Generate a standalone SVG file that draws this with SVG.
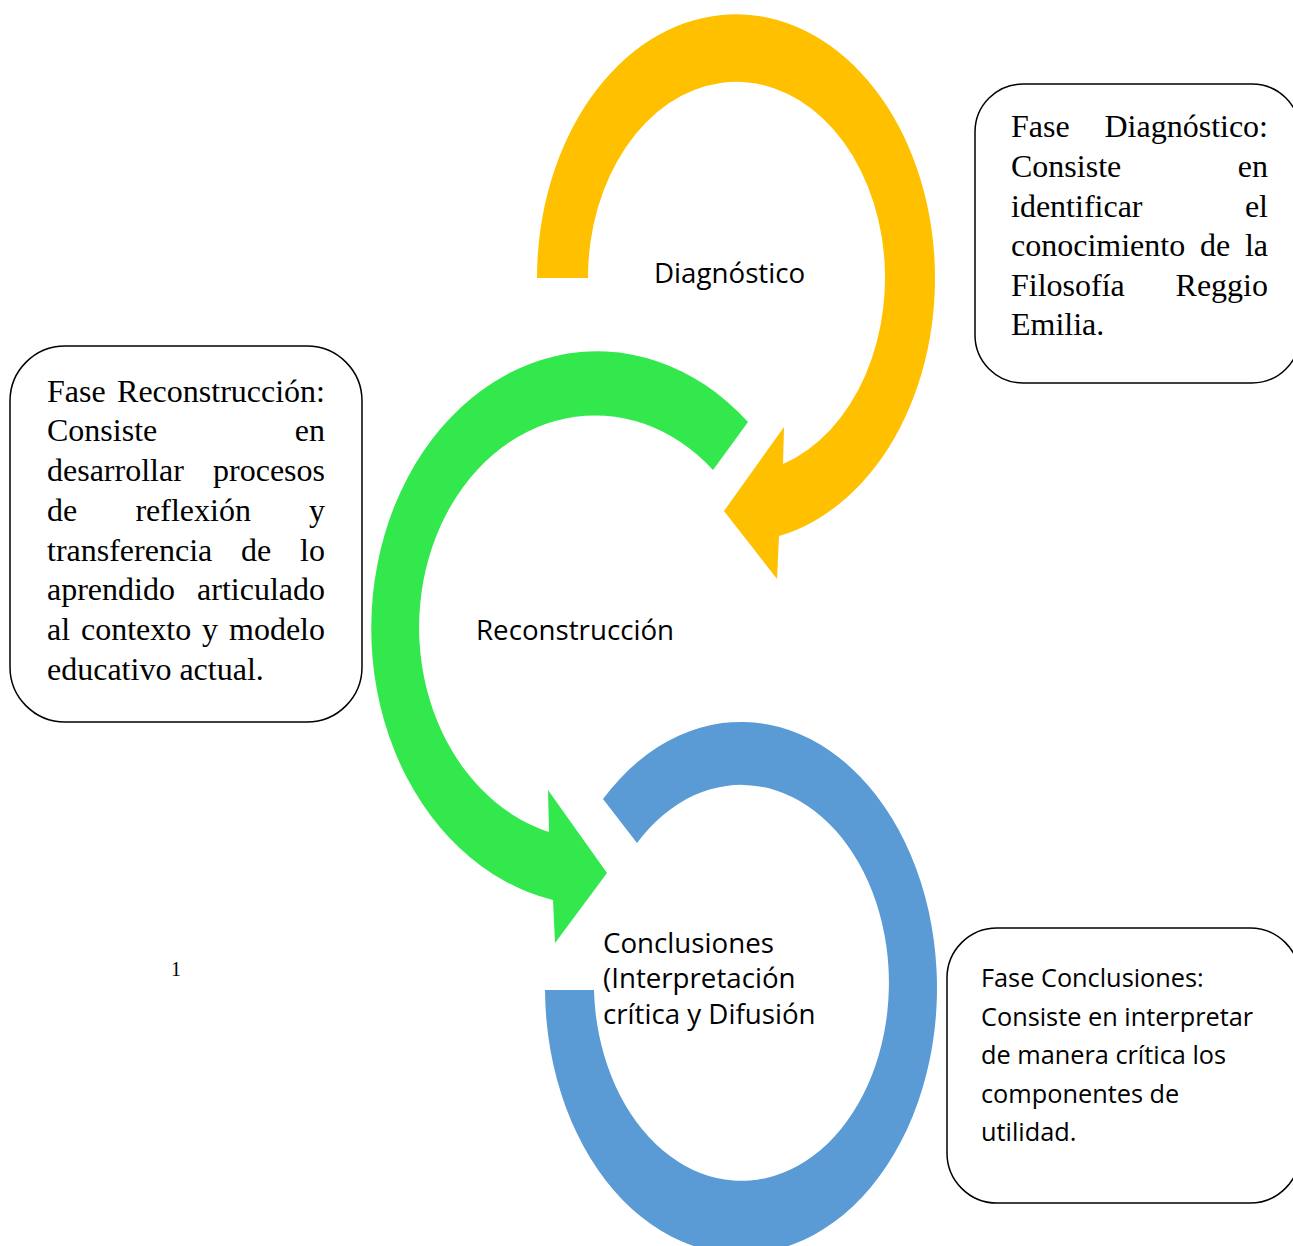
<svg xmlns="http://www.w3.org/2000/svg" width="1293" height="1246" viewBox="0 0 1293 1246">
<style>
.box{fill:#fff;stroke:#000;stroke-width:1.5}
.serif{font-family:"Liberation Serif","Times New Roman",serif;font-size:32px;fill:#000}
.lbl{font-family:"Open Sans","Noto Sans",sans-serif;font-size:27.7px;fill:#000}
.sans{font-family:"Open Sans","Noto Sans",sans-serif;font-size:25.3px;fill:#000}
.end{text-anchor:end}
</style>
<rect width="1293" height="1246" fill="#fff"/>
<g id="connectors">
  <path id="arrow-diagnostico" fill="#FFC000" d="M537,278 A199,264 0 1 1 779,536 L777,579 L724,511 L784,427 L783,464 A148.5,196 0 1 0 588,278 Z"/>
  <path id="arrow-reconstruccion" fill="#33E84D" d="M748,422 A226,277 0 1 0 553,900 L555,943 L607,873 L548,790 L549,832 A176,212 0 1 1 713,470 Z"/>
  <path id="arrow-conclusiones" fill="#5B9BD5" d="M545,990 A196,266 0 1 0 603,799 L637,843 A147.5,198 0 1 1 594,990 Z"/>
</g>
<g id="node-diagnostico">
  <text class="lbl" x="654" y="283">Diagnóstico</text>
</g>
<g id="node-reconstruccion">
  <text class="lbl" x="476" y="640">Reconstrucción</text>
</g>
<g id="node-conclusiones">
  <text class="lbl" x="603" y="953">Conclusiones</text>
  <text class="lbl" x="603" y="988">(Interpretación</text>
  <text class="lbl" x="603" y="1024">crítica y Difusión</text>
</g>
<g id="box-diagnostico">
  <rect class="box" x="975" y="84" width="325" height="299" rx="48" ry="48"/>
  <text class="serif" x="1011" y="137">Fase</text><text class="serif end" x="1268" y="137">Diagnóstico:</text>
  <text class="serif" x="1011" y="177">Consiste</text><text class="serif end" x="1268" y="177">en</text>
  <text class="serif" x="1011" y="217">identificar</text><text class="serif end" x="1268" y="217">el</text>
  <text class="serif" x="1011" y="256">conocimiento</text><text class="serif" x="1200" y="256">de</text><text class="serif end" x="1268" y="256">la</text>
  <text class="serif" x="1011" y="296">Filosofía</text><text class="serif end" x="1268" y="296">Reggio</text>
  <text class="serif" x="1011" y="335">Emilia.</text>
</g>
<g id="box-reconstruccion">
  <rect class="box" x="10" y="346" width="352" height="376" rx="55" ry="55"/>
  <text class="serif" x="47" y="402">Fase</text><text class="serif end" x="325" y="402">Reconstrucción:</text>
  <text class="serif" x="47" y="441">Consiste</text><text class="serif end" x="325" y="441">en</text>
  <text class="serif" x="47" y="481">desarrollar</text><text class="serif end" x="325" y="481">procesos</text>
  <text class="serif" x="47" y="521">de</text><text class="serif" x="135.4" y="521">reflexión</text><text class="serif end" x="325" y="521">y</text>
  <text class="serif" x="47" y="561">transferencia</text><text class="serif" x="241" y="561">de</text><text class="serif end" x="325" y="561">lo</text>
  <text class="serif" x="47" y="600">aprendido</text><text class="serif end" x="325" y="600">articulado</text>
  <text class="serif" x="47" y="640">al</text><text class="serif" x="81" y="640">contexto</text><text class="serif" x="202" y="640">y</text><text class="serif end" x="325" y="640">modelo</text>
  <text class="serif" x="47" y="680">educativo actual.</text>
</g>
<g id="box-conclusiones">
  <rect class="box" x="947" y="928" width="353" height="275" rx="50" ry="50"/>
  <text class="sans" x="981" y="987">Fase Conclusiones:</text>
  <text class="sans" x="981" y="1026">Consiste en interpretar</text>
  <text class="sans" x="981" y="1064">de manera crítica los</text>
  <text class="sans" x="981" y="1103">componentes de</text>
  <text class="sans" x="981" y="1141">utilidad.</text>
</g>
<g id="page-number">
  <text x="176" y="976" text-anchor="middle" style="font-family:'Liberation Serif','Times New Roman',serif;font-size:20px;fill:#000">1</text>
</g>
</svg>
